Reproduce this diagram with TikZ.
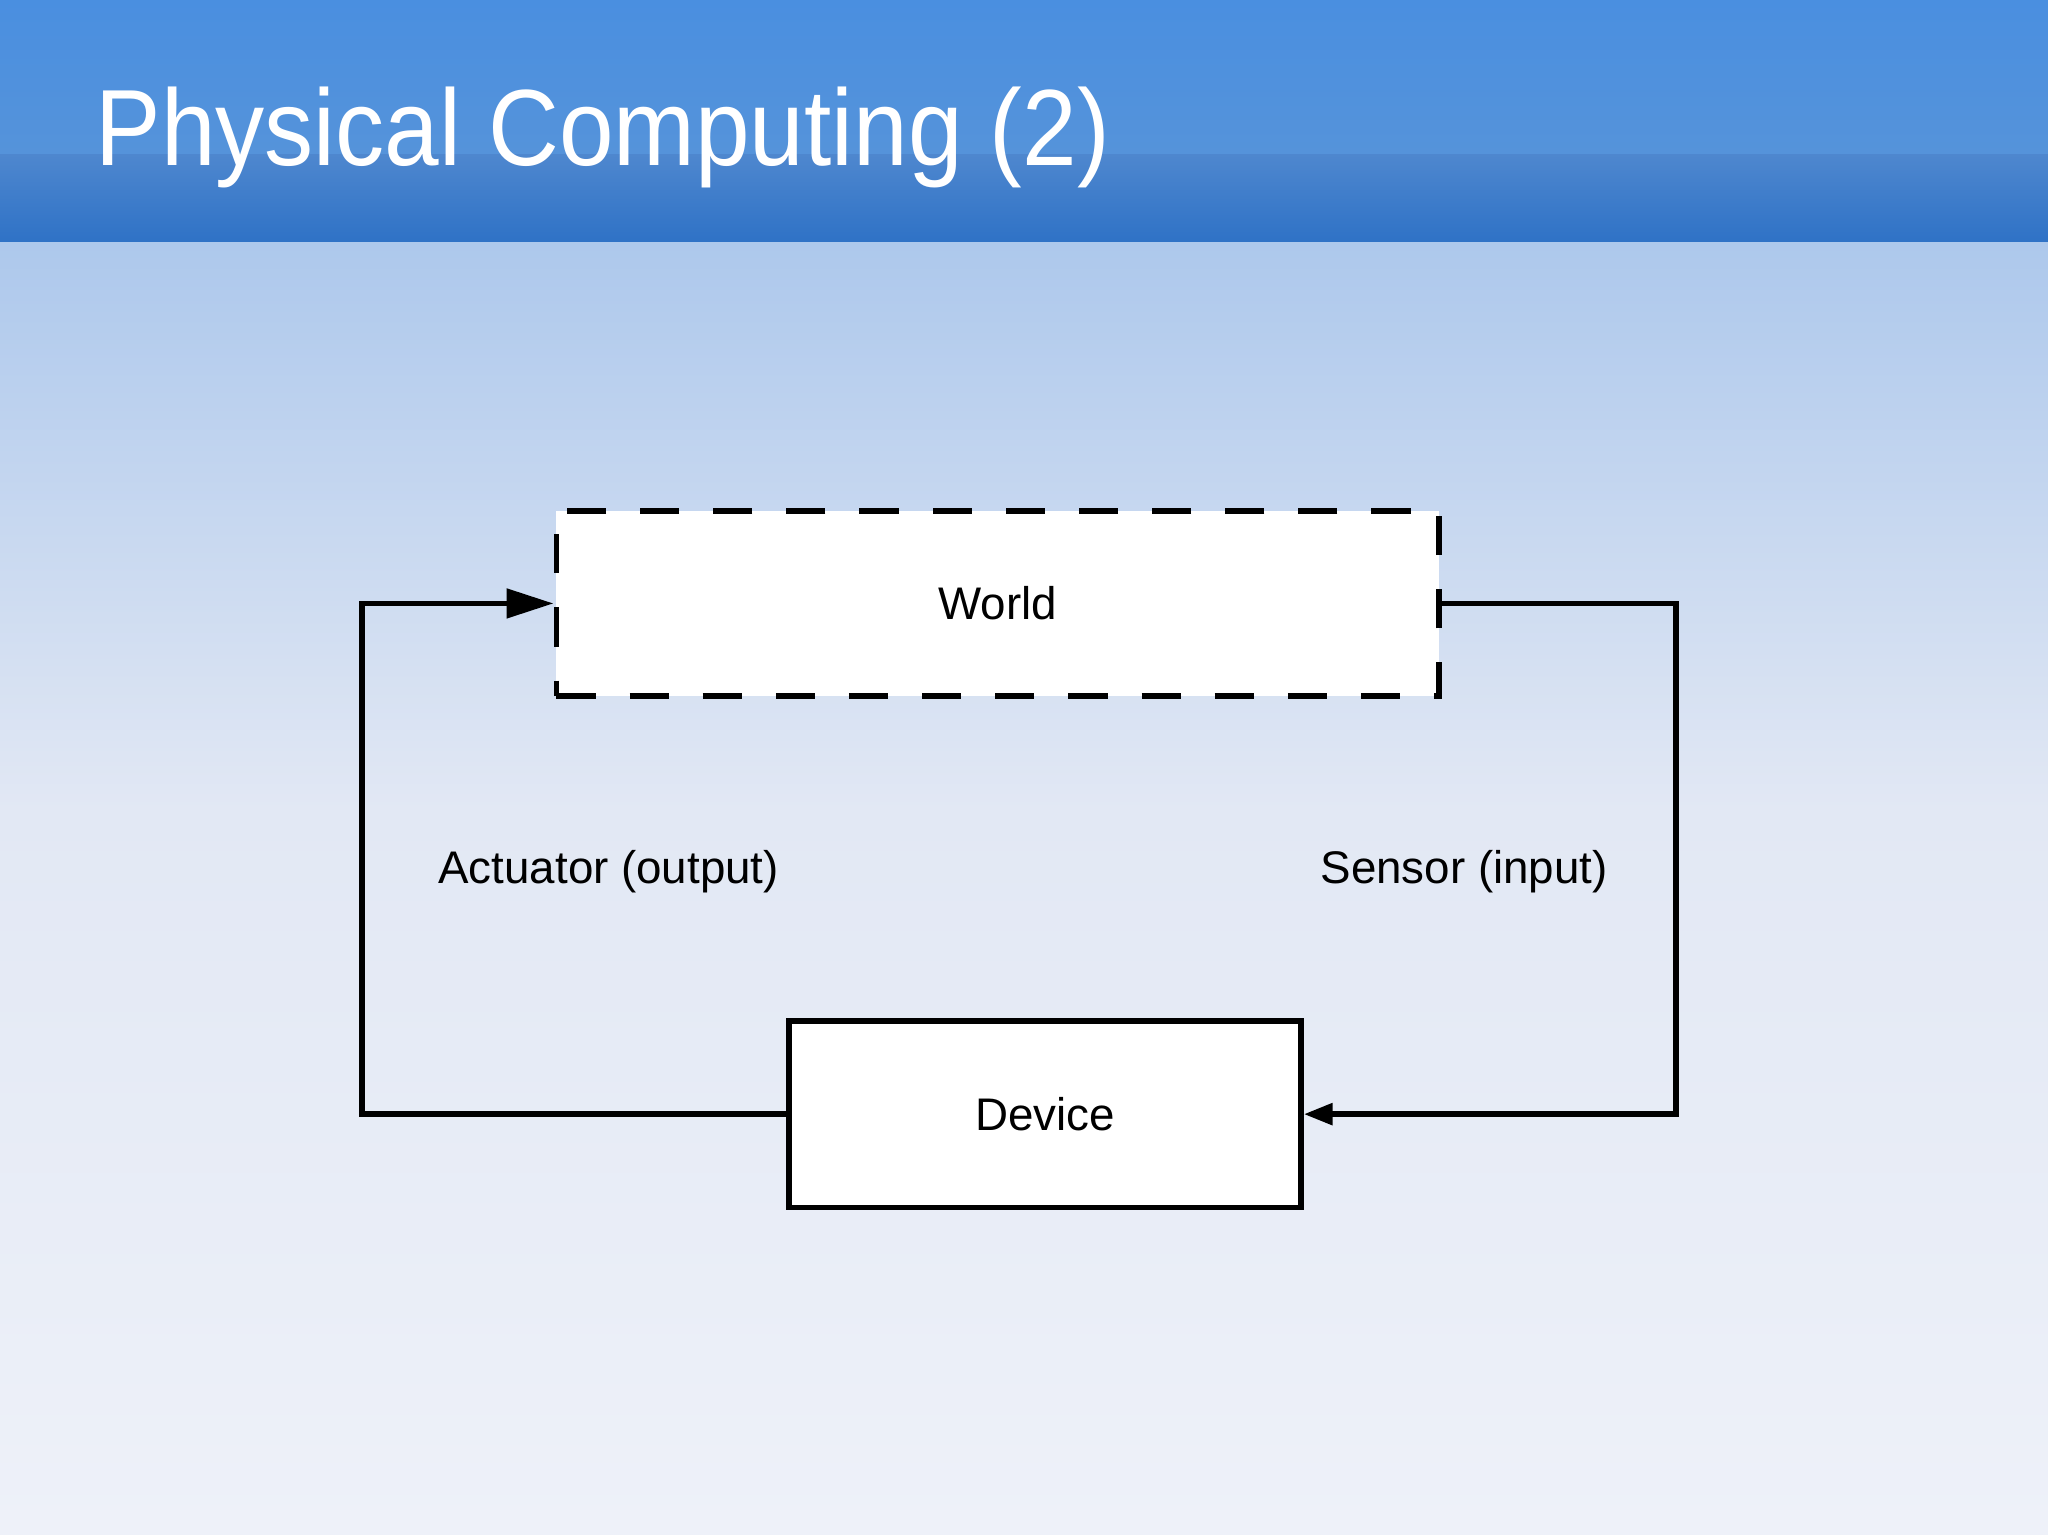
\documentclass[tikz,border=0pt]{standalone}
\usepackage{fontspec}
\setmainfont{Liberation Sans}
\usetikzlibrary{arrows.meta}
\definecolor{bartop}{HTML}{4A8FE0}
\definecolor{barmid}{HTML}{5593DA}
\definecolor{barlow}{HTML}{2F72C6}
\definecolor{bgtop}{HTML}{ADC8EC}
\definecolor{bgmid}{HTML}{E2E8F4}
\definecolor{bgbot}{HTML}{EEF1F9}
\tikzset{
  box/.style={draw=black, fill=white, line width=2.2pt, inner sep=0pt},
  conn/.style={draw=black, line width=2.2pt},
  lbl/.style={font=\fontsize{17.5pt}{20pt}\selectfont, text=black}
}
\begin{document}
\begin{tikzpicture}[x=0.5pt,y=-0.5pt]
\useasboundingbox (0,0) rectangle (1568,1175);
\shade[top color=bgtop, bottom color=bgmid] (0,185) rectangle (1568,620);
\shade[top color=bgmid, bottom color=bgbot] (0,620) rectangle (1568,1175);
\shade[top color=bartop, bottom color=barmid] (0,0) rectangle (1568,118);
\shade[top color=barlow!85!white, bottom color=barlow] (0,118) rectangle (1568,185);
\node[anchor=base west, text=white, font=\fontsize{41.5pt}{48pt}\selectfont, inner sep=0pt, xscale=0.905] (title) at (73,127) {Physical Computing (2)};
\node[box, dash pattern=on 15pt off 13pt, minimum width=338pt, minimum height=71pt] (world) at (764,462) {};
\node[lbl] at (764,462) {World};
\node[box, minimum width=196pt, minimum height=71.5pt] (device) at (800,853) {};
\node[lbl] at (800,853) {Device};
\coordinate (lb) at (277,853);
\coordinate (lt) at (277,462);
\coordinate (rt) at (1283,462);
\coordinate (rb) at (1283,853);
\draw[conn, -{Triangle[length=18pt,width=11pt]}] (device.west) -- (lb) -- (lt) -- (world.west);
\draw[conn, -{Triangle[length=11pt,width=8pt]}] (world.east) -- (rt) -- (rb) -- (device.east);
\node[lbl] (act) at (466,667) {Actuator (output)};
\node[lbl] (sen) at (1121,667) {Sensor (input)};
\end{tikzpicture}
\end{document}
